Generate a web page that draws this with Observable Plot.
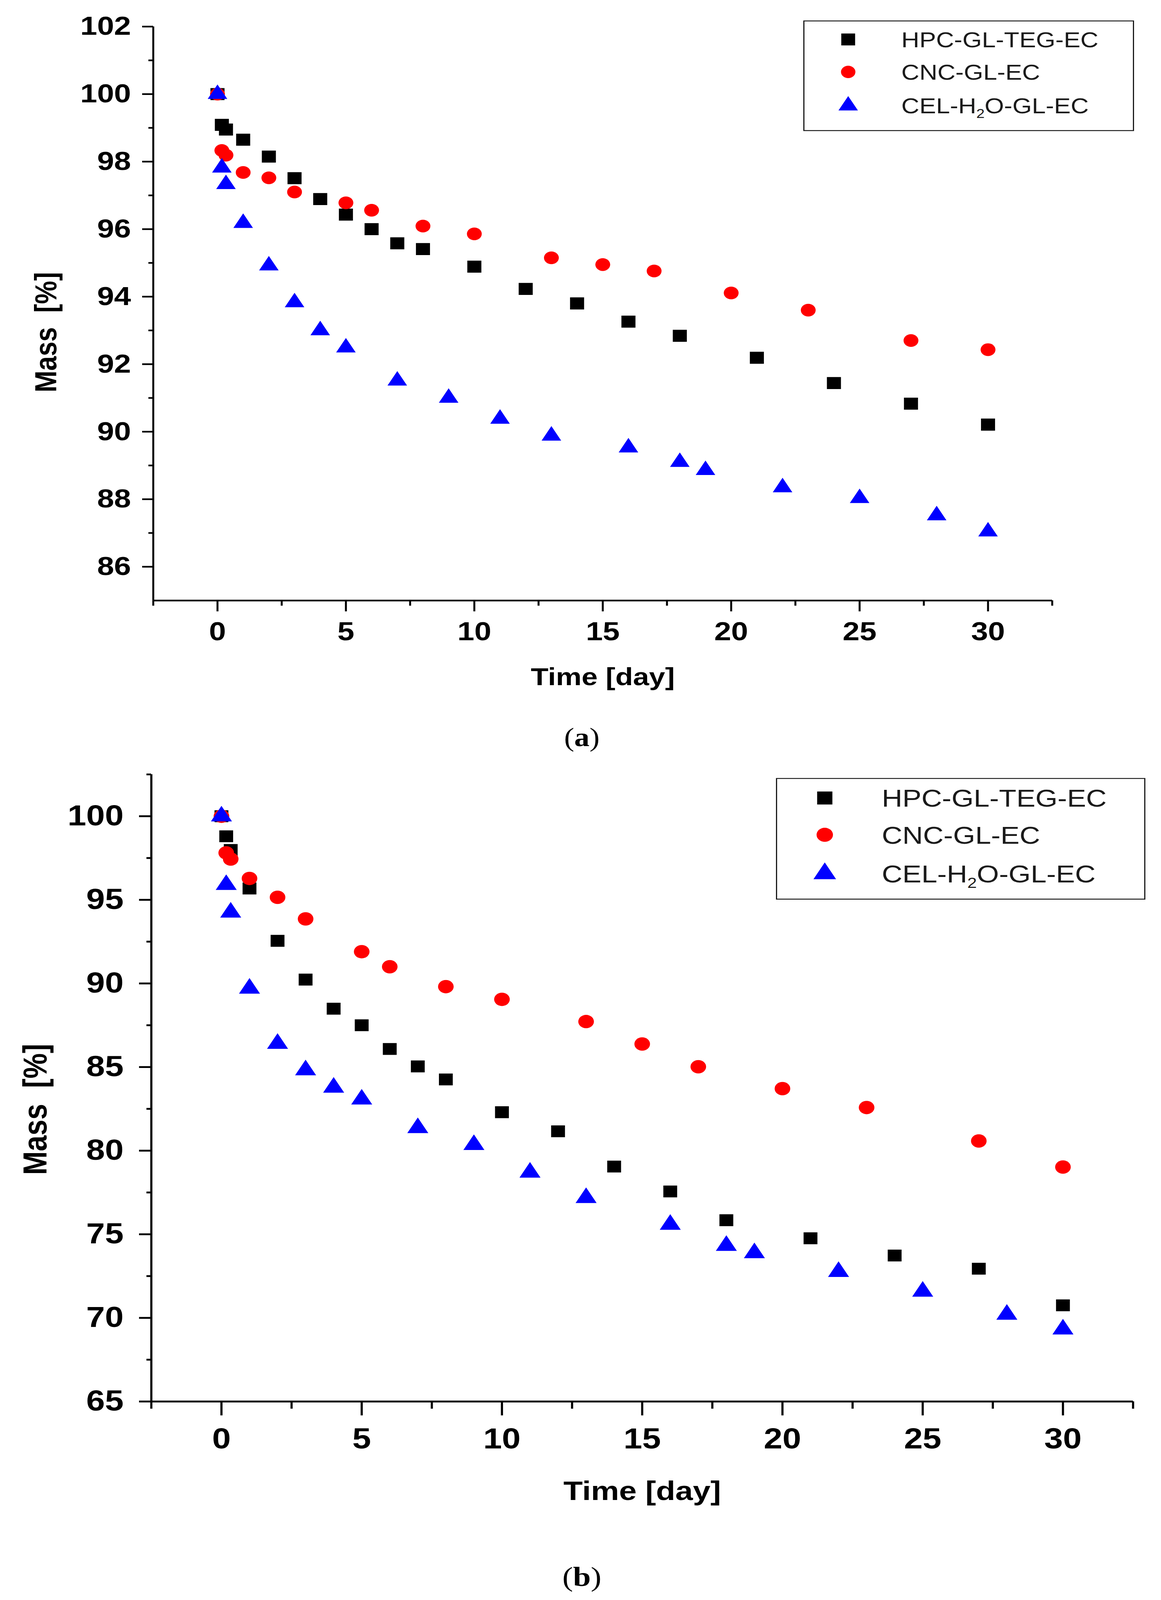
<!DOCTYPE html>
<html>
<head>
<meta charset="utf-8">
<script src="https://cdn.jsdelivr.net/npm/d3@7"></script>
<script src="https://cdn.jsdelivr.net/npm/@observablehq/plot@0.6"></script>
<style>
  html, body { margin: 0; padding: 0; background: #fff; overflow: hidden; }
  #page { position: relative; width: 2973px; height: 4784px; background: #fff; overflow: hidden; transform-origin: 0 0; }
  .panel { position: absolute; left: 0; }
  .legend { position: absolute; }
  .caption { position: absolute; font-family: "Liberation Serif", "Times New Roman", serif; transform: translate(-50%, -50%); color: #000; }
  svg text { white-space: pre; }
</style>
</head>
<body>
<div id="page"></div>
<script>
// sampling days per series (same in both panels)
const daysHPC = [0, 0.17, 0.33, 1, 2, 3, 4, 5, 6, 7, 8, 10, 12, 14, 16, 18, 21, 24, 27, 30]
const daysCNC = [0, 0.17, 0.33, 1, 2, 3, 5, 6, 8, 10, 13, 15, 17, 20, 23, 27, 30]
const daysCEL = [0, 0.17, 0.33, 1, 2, 3, 4, 5, 7, 9, 11, 13, 16, 18, 19, 22, 25, 28, 30]

// panel (a) mass [%]
const massA_HPC = [100, 99.09, 98.95, 98.65, 98.15, 97.51, 96.89, 96.43, 96.0, 95.58, 95.41, 94.89, 94.23, 93.8, 93.26, 92.84, 92.19, 91.44, 90.83, 90.21]
const massA_CNC = [100, 98.33, 98.19, 97.68, 97.52, 97.1, 96.78, 96.56, 96.09, 95.86, 95.15, 94.95, 94.76, 94.11, 93.6, 92.7, 92.43]
const massA_CEL = [100, 97.82, 97.33, 96.18, 94.92, 93.83, 93.0, 92.49, 91.51, 91.0, 90.38, 89.88, 89.53, 89.1, 88.86, 88.35, 88.03, 87.52, 87.04]

// panel (b) mass [%]
const massB_HPC = [100, 98.8, 97.98, 95.68, 92.55, 90.23, 88.49, 87.5, 86.08, 85.04, 84.26, 82.3, 81.16, 79.05, 77.56, 75.84, 74.76, 73.73, 72.94, 70.75]
const massB_CNC = [100, 97.81, 97.44, 96.28, 95.15, 93.86, 91.9, 91.0, 89.81, 89.05, 87.72, 86.38, 85.02, 83.71, 82.58, 80.58, 79.02]
const massB_CEL = [100, 95.9, 94.25, 89.7, 86.4, 84.82, 83.78, 83.07, 81.36, 80.35, 78.7, 77.18, 75.58, 74.32, 73.88, 72.76, 71.58, 70.2, 69.32]

// axes
const xDomain = [-2.5, 32.5]
const xTicks = [0, 5, 10, 15, 20, 25, 30]
const xMinor = [-2.5, 2.5, 7.5, 12.5, 17.5, 22.5, 27.5, 32.5]
const yDomainA = [85, 102]
const yTicksA = [86, 88, 90, 92, 94, 96, 98, 100, 102]
const yMinorA = [87, 89, 91, 93, 95, 97, 99, 101]
const yDomainB = [65, 102.5]
const yTicksB = [65, 70, 75, 80, 85, 90, 95, 100]
const yMinorB = [67.5, 72.5, 77.5, 82.5, 87.5, 92.5, 97.5, 102.5]

const names = ['HPC-GL-TEG-EC', 'CNC-GL-EC', 'CEL-H2O-GL-EC']
const colors = ['#000000', '#ff0000', '#0000ff']
const symbols = ['square', 'circle', 'triangle']
const d3Symbols = {square: d3.symbolSquare, circle: d3.symbolCircle, triangle: d3.symbolTriangle}

const font = 'Liberation Sans, Arial, sans-serif'
const page = d3.select('#page')

const rows = (days, mass) => days.map((d, i) => ({day: d, mass: mass[i]}))

function panel(c) {
  const data = [rows(daysHPC, c.hpc), rows(daysCNC, c.cnc), rows(daysCEL, c.cel)]
  const chart = Plot.plot({
    width: 2973,
    height: c.height,
    marginTop: c.mt,
    marginBottom: c.mb,
    marginLeft: c.ml,
    marginRight: c.mr,
    style: {fontFamily: font, fontWeight: 'bold', fontSize: c.tickFont + 'px', color: '#000', background: 'transparent'},
    x: {domain: xDomain, label: null},
    y: {domain: c.yDomain, label: null},
    marks: [
      // minor ticks (no labels)
      Plot.axisY(c.yMinor, {tickSize: c.yMinorSize, strokeWidth: c.sw, label: null, tickFormat: () => ''}),
      Plot.axisY(c.yTicks, {tickSize: c.yMajorSize, tickPadding: c.yPad, strokeWidth: c.sw, label: null,
        tickFormat: d => d, fontSize: c.tickFont, fontWeight: 'bold'}),
      Plot.axisX(xMinor, {tickSize: c.xMinorSize, strokeWidth: c.sw, label: null, tickFormat: () => ''}),
      Plot.axisX(xTicks, {tickSize: c.xMajorSize, tickPadding: c.xPad, strokeWidth: c.sw, label: null,
        tickFormat: d => d, fontSize: c.tickFont, fontWeight: 'bold'}),
      Plot.ruleY([c.yDomain[0]], {strokeWidth: c.sw}),
      Plot.ruleX([xDomain[0]], {y1: c.yDomain[0], y2: c.yDomain[1], strokeWidth: c.sw}),
      ...data.map((d, i) => Plot.dot(d, {x: 'day', y: 'mass', symbol: symbols[i], r: c.r[i], fill: colors[i], stroke: 'none'})),
      Plot.text(['Time [day]'], {text: d => d, frameAnchor: 'bottom', lineAnchor: 'middle', dy: c.xTitleDy,
        fontSize: c.titleFont, fontWeight: 'bold'}),
      Plot.text(['Mass  [%]'], {text: d => d, frameAnchor: 'left', rotate: -90, lineAnchor: 'middle', textAnchor: 'middle',
        dx: c.yTitleDx, dy: c.yTitleDy, fontSize: c.yTitleFont, fontWeight: 'bold'}),
    ],
  })
  page.append('div').attr('class', 'panel').style('top', c.top + 'px').append(() => chart)

  // legend box
  const L = c.legend
  const svg = page.append('div').attr('class', 'legend')
    .style('left', L.left + 'px').style('top', L.top + 'px')
    .append('svg').attr('width', L.w).attr('height', L.h)
  svg.append('rect').attr('x', 1.5).attr('y', 1.5).attr('width', L.w - 3).attr('height', L.h - 3)
    .attr('fill', '#fff').attr('stroke', '#1a1a1a').attr('stroke-width', 3)
  names.forEach((name, i) => {
    svg.append('path')
      .attr('transform', `translate(${L.mx},${L.rows[i]})`)
      .attr('d', d3.symbol(d3Symbols[symbols[i]], Math.PI * L.r[i] * L.r[i])())
      .attr('fill', colors[i])
    const t = svg.append('text').attr('x', L.tx).attr('y', L.rows[i]).attr('dy', '0.36em')
      .attr('font-family', font).attr('font-size', L.font).attr('fill', '#1a1a1a')
    const m = name.match(/^(.*H)2(O.*)$/)
    if (m) {
      const sh = L.font * 0.22
      t.append('tspan').text(m[1])
      t.append('tspan').attr('dy', sh).attr('font-size', L.font * 0.6).text('2')
      t.append('tspan').attr('dy', -sh).text(m[2])
    } else {
      t.text(name)
    }
  })

  page.append('div').attr('class', 'caption')
    .style('left', c.cap[0] + 'px').style('top', c.cap[1] + 'px').style('font-size', c.capFont + 'px')
    .html(`(<b>${c.letter}</b>)`)
}

panel({
  top: 0, height: 2110, mt: 79, mb: 315, ml: 392, mr: 279,
  hpc: massA_HPC, cnc: massA_CNC, cel: massA_CEL,
  yDomain: yDomainA, yTicks: yTicksA, yMinor: yMinorA,
  tickFont: 78, titleFont: 74, yTitleFont: 78, sw: 5,
  yMajorSize: 28, yMinorSize: 12, yPad: 29,
  xMajorSize: 33, xMinorSize: 16, xPad: 30,
  r: [20.3, 19, 18.6],
  xTitleDy: 229, yTitleDx: -273, yTitleDy: 56,
  legend: {left: 2057, top: 61, w: 847, h: 331, mx: 115, tx: 251, rows: [57, 154, 255], r: [20, 18.5, 18.5], font: 64},
  cap: [1490, 2205], capFont: 78, letter: 'a',
})

panel({
  top: 2250, height: 2300, mt: 65, mb: 360, ml: 387, mr: 72,
  hpc: massB_HPC, cnc: massB_CNC, cel: massB_CEL,
  yDomain: yDomainB, yTicks: yTicksB, yMinor: yMinorB,
  tickFont: 86, titleFont: 81, yTitleFont: 85, sw: 5.5,
  yMajorSize: 31, yMinorSize: 12, yPad: 40,
  xMajorSize: 42, xMinorSize: 22, xPad: 37,
  r: [20, 20, 20],
  xTitleDy: 269, yTitleDx: -296, yTitleDy: 64,
  legend: {left: 1987, top: 2326, w: 946, h: 364, mx: 125, tx: 271, rows: [60, 170, 286], r: [22, 21, 21.5], font: 73},
  cap: [1490, 4715], capFont: 82, letter: 'b',
})

// fit the whole 2973x4784 figure into the visible window if it is smaller
const sx = Math.min(1, window.innerWidth / 2973)
const sy = Math.min(1, window.innerHeight / 4784)
if (sx < 1 || sy < 1) page.style('transform', `scale(${sx},${sy})`)
</script>
</body>
</html>
